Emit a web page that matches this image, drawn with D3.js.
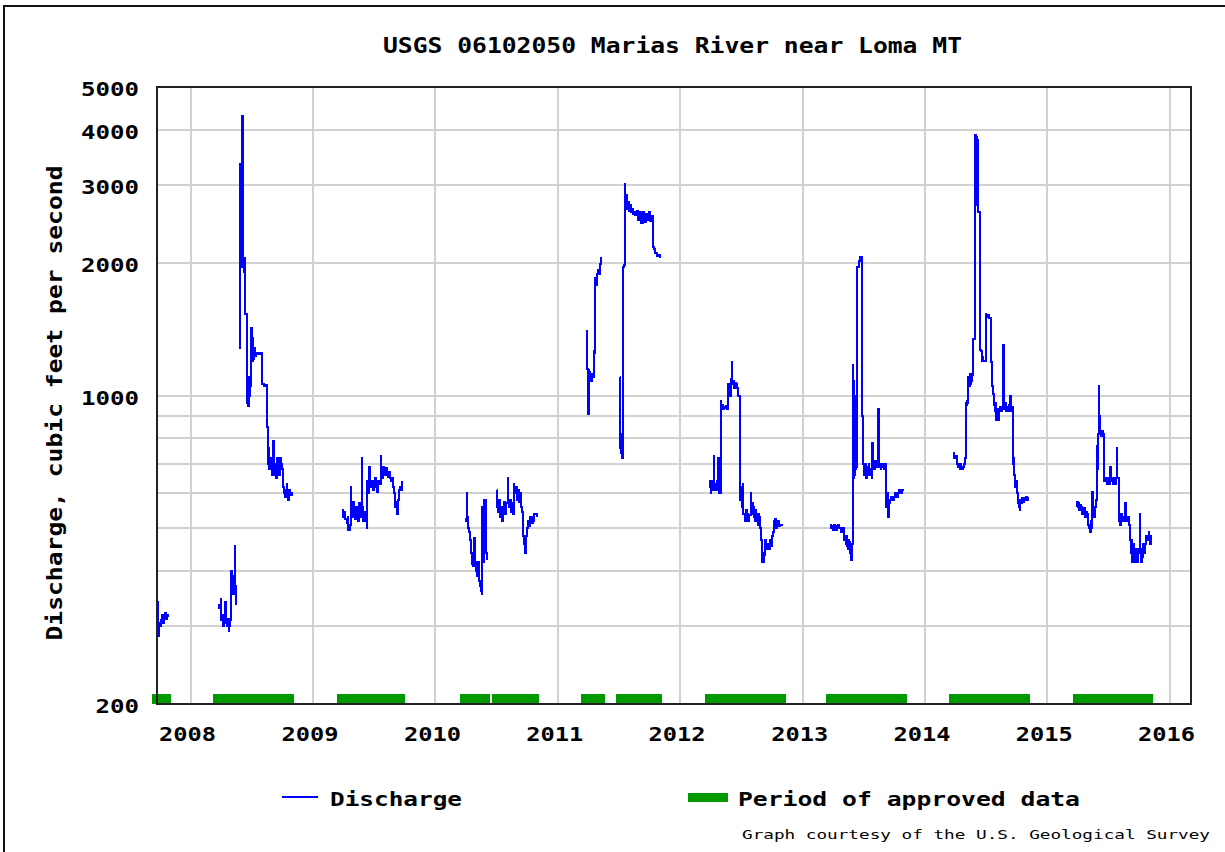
<!DOCTYPE html>
<html><head><meta charset="utf-8">
<script src="https://cdn.jsdelivr.net/npm/d3@7"></script>
<style>body{margin:0;background:#fff;overflow:hidden} svg{display:block}</style>
</head><body>
<svg id="c" width="1225" height="852"></svg>
<script>
// ---------------- data ----------------
const chartTitle = "USGS 06102050 Marias River near Loma MT";
const yAxisTitle = "Discharge, cubic feet per second";
const legendDischarge = "Discharge";
const legendApproved = "Period of approved data";
const footerText = "Graph courtesy of the U.S. Geological Survey";

const yLabelTicks = [200, 1000, 2000, 3000, 4000, 5000];
const yGridTicks = [300, 400, 500, 600, 700, 800, 900, 1000, 2000, 3000, 4000];
const xYearTicks = [2008, 2009, 2010, 2011, 2012, 2013, 2014, 2015, 2016];
const xDomain = ["2007-09-23", "2016-03-05"];

// Periods of approved data [start, end]
const approvedStarts = ["2007-09-07","2008-03-09","2009-03-14","2010-03-16","2010-06-20","2011-03-12","2011-06-23","2012-03-16","2013-03-12","2014-03-15","2015-03-18"];
const approvedEnds   = ["2007-11-03","2008-11-05","2009-10-02","2010-06-12","2010-11-05","2011-05-21","2011-11-09","2012-11-11","2013-11-08","2014-11-11","2015-11-14"];

// Daily discharge segments: [day of year, cfs]
const q2007 = [[266,340],[267,300],[268,285],[270,305],[273,300],[276,310],[279,318],[282,305],[285,318],[288,322],[291,312],[294,318],[298,315]];
const q2008a = [[81,330],[85,335],[90,345],[92,310],[95,318],[98,300],[101,312],[104,340],[106,305],[108,300],[111,312],[114,292],[116,300],[118,310],[121,400],[123,370],[124,390],[126,365],[128,355],[130,380],[133,455],[134,370],[136,335]];
const q2008b = [[146,1280],[147,3350],[148,1950],[149,3300],[150,2000],[151,3350],[152,2100],[153,1950],[154,3400],[155,4300],[156,2100],[158,2000],[160,1900],[161,2050],[162,1530],[168,1100],[169,960],[171,1050],[172,945],[174,1100],[176,1000],[178,1080],[180,1050],[182,1420],[184,1200],[186,1350],[188,1210],[190,1280],[192,1230],[194,1250],[197,1240],[201,1250],[205,1240],[209,1245],[213,1060],[219,1050],[224,1055],[229,850],[230,700],[232,760],[235,680],[237,720],[239,700],[242,660],[245,700],[247,790],[248,690],[251,660],[254,700],[255,650],[258,720],[260,660],[262,700],[264,660],[267,720],[269,680],[272,700],[274,680],[277,620],[280,600],[282,590],[285,610],[287,630],[289,600],[292,580],[295,610],[298,595],[302,605]];
const q2009 = [[85,550],[89,530],[93,545],[96,525],[100,515],[103,530],[105,495],[109,510],[112,620],[113,540],[115,530],[119,575],[122,540],[124,525],[128,560],[131,545],[133,520],[137,570],[140,540],[142,530],[145,720],[146,580],[147,560],[150,520],[153,545],[155,540],[158,520],[160,500],[162,640],[165,600],[168,690],[169,630],[172,620],[176,640],[180,610],[183,630],[185,650],[188,620],[190,605],[193,625],[195,640],[198,630],[202,730],[203,660],[205,650],[209,690],[211,670],[214,660],[218,685],[220,670],[223,655],[227,670],[230,650],[232,640],[236,650],[238,620],[240,600],[244,560],[247,575],[250,540],[253,580],[255,610],[259,620],[262,610],[265,640]];
const q2010a = [[88,520],[91,525],[93,600],[94,530],[96,520],[98,500],[100,490],[102,470],[105,440],[108,415],[111,430],[113,410],[116,475],[117,430],[118,420],[121,400],[124,390],[127,420],[130,380],[133,370],[136,360],[138,355],[140,560],[141,480],[142,420],[144,580],[146,500],[147,460],[149,580],[150,500],[152,440],[153,425]];
const q2010b = [[183,610],[185,560],[188,545],[191,580],[194,530],[197,560],[200,520],[203,550],[206,575],[209,540],[212,570],[216,650],[217,570],[219,560],[222,580],[225,545],[228,570],[231,540],[233,630],[235,600],[237,610],[240,620],[243,580],[246,610],[249,575],[252,600],[254,560],[258,545],[261,480],[264,460],[267,440],[270,480],[273,500],[276,520],[279,505],[283,530],[287,515],[290,520],[294,540],[299,540],[302,530]];
const q2011a = [[84,1400],[86,1170],[88,1150],[91,910],[92,1140],[94,1130],[96,1100],[99,1080],[102,1120],[105,1100],[107,1260],[109,1250],[111,1850],[113,1780],[116,1880],[119,1920],[122,1880],[125,1960],[127,1990],[129,2060]];
const q2011b = [[186,1100],[187,760],[189,820],[190,740],[192,720],[194,1950],[196,1950],[199,1980],[201,3020],[202,2700],[204,2850],[206,2700],[208,2650],[211,2750],[214,2620],[217,2700],[220,2600],[223,2650],[226,2580],[229,2600],[232,2560],[236,2620],[240,2500],[244,2600],[249,2460],[253,2600],[258,2470],[262,2580],[267,2500],[271,2600],[276,2480],[281,2550],[284,2170],[288,2150],[291,2100],[297,2070],[303,2080],[306,2050]];
const q2012 = [[87,620],[89,640],[91,600],[93,630],[96,640],[99,610],[101,730],[102,620],[104,610],[107,630],[109,640],[112,610],[114,720],[115,620],[117,600],[121,970],[123,950],[125,950],[128,930],[130,940],[134,935],[137,945],[139,930],[142,960],[144,1060],[146,1040],[148,1000],[151,1090],[154,1190],[155,1080],[157,1060],[159,1080],[161,1040],[163,1040],[165,1070],[167,1060],[170,1040],[172,1030],[174,1000],[178,990],[179,580],[182,620],[184,560],[187,630],[188,540],[190,540],[193,520],[196,550],[199,525],[201,540],[203,520],[205,530],[207,535],[211,600],[212,540],[214,540],[216,570],[218,560],[221,530],[223,520],[225,550],[227,540],[230,520],[232,510],[234,540],[236,530],[238,510],[239,500],[241,470],[244,450],[246,420],[248,420],[250,440],[251,435],[254,470],[257,450],[259,450],[263,460],[266,450],[268,470],[271,460],[272,455],[275,480],[277,490],[279,500],[281,520],[284,525],[287,500],[289,505],[291,520],[293,520],[296,505],[298,510],[301,510],[304,505]];
const q2013 = [[82,510],[85,500],[88,505],[91,495],[94,510],[97,500],[100,495],[103,505],[106,510],[109,500],[112,500],[115,490],[118,495],[121,500],[123,470],[125,480],[128,460],[130,480],[132,455],[134,450],[136,470],[138,465],[140,445],[141,440],[143,450],[144,425],[146,440],[147,460],[149,1170],[150,700],[151,1080],[152,650],[153,1050],[154,680],[155,660],[157,1000],[158,680],[160,690],[161,1950],[163,1950],[165,1960],[167,1950],[169,2020],[171,2060],[174,2060],[177,1000],[178,900],[179,790],[180,700],[182,660],[184,700],[185,660],[188,700],[190,650],[191,680],[194,690],[197,700],[199,660],[201,670],[204,680],[206,650],[208,780],[209,690],[211,700],[213,680],[215,710],[218,690],[221,700],[224,690],[226,930],[227,700],[230,690],[233,680],[235,700],[237,700],[240,690],[242,680],[246,700],[248,690],[249,560],[251,580],[252,600],[254,540],[255,530],[257,560],[259,570],[262,580],[264,590],[267,580],[270,580],[273,590],[276,600],[279,590],[282,590],[285,600],[288,610],[291,600],[294,600],[297,610],[300,615]];
const q2014 = [[85,740],[87,720],[88,730],[91,720],[93,730],[95,700],[97,700],[100,690],[102,700],[104,680],[106,700],[109,690],[111,680],[113,690],[115,690],[118,700],[120,720],[121,960],[123,950],[125,970],[127,960],[128,1100],[130,1080],[132,1050],[134,1100],[135,1120],[137,1060],[138,1080],[140,1120],[141,1110],[143,1150],[144,1340],[146,1340],[148,1350],[150,3900],[151,2700],[152,3850],[153,2900],[154,3850],[155,2800],[157,3800],[158,2600],[160,2600],[162,2600],[165,1270],[167,1260],[169,1200],[171,1220],[174,1200],[178,1200],[181,1530],[183,1510],[185,1520],[188,1510],[190,1520],[192,1500],[194,1500],[196,1200],[198,1190],[200,1050],[202,1010],[204,1010],[206,950],[208,920],[209,960],[211,880],[213,930],[214,900],[216,920],[218,880],[220,910],[222,930],[225,940],[228,920],[231,930],[234,1300],[235,950],[237,940],[239,930],[241,960],[243,920],[245,940],[248,930],[250,920],[252,950],[254,1000],[256,940],[257,920],[259,940],[262,700],[264,720],[265,680],[267,660],[268,650],[269,620],[271,640],[274,600],[277,590],[279,570],[281,560],[283,550],[285,580],[287,570],[290,585],[293,575],[296,585],[299,580],[302,590],[305,580],[309,590]];
const q2015 = [[88,560],[90,575],[92,570],[94,555],[96,550],[98,565],[101,560],[103,545],[105,540],[108,555],[110,555],[112,535],[114,530],[117,545],[119,540],[121,520],[123,510],[126,500],[128,490],[130,520],[131,520],[133,500],[135,605],[136,560],[138,560],[140,530],[141,540],[143,560],[144,560],[146,580],[148,770],[149,700],[150,680],[152,820],[153,1050],[154,900],[156,830],[158,820],[161,810],[163,830],[165,820],[168,650],[170,640],[173,640],[175,650],[177,630],[179,650],[181,640],[183,630],[186,650],[188,690],[189,640],[191,640],[193,650],[195,630],[197,650],[200,640],[203,630],[205,650],[208,760],[209,650],[211,650],[213,640],[215,520],[218,510],[219,540],[221,540],[223,520],[225,520],[228,530],[230,530],[233,570],[234,520],[236,520],[238,530],[240,530],[243,520],[245,510],[248,470],[250,450],[251,440],[252,470],[254,420],[256,440],[258,460],[260,430],[261,430],[263,420],[266,450],[268,430],[270,420],[272,440],[274,450],[276,540],[277,450],[278,450],[280,420],[283,430],[285,445],[287,460],[289,450],[291,440],[293,460],[294,480],[297,470],[299,470],[301,480],[303,490],[305,475],[308,460],[310,480],[313,480]];

const segmentYears = [2007, 2008, 2008, 2009, 2010, 2010, 2011, 2011, 2012, 2013, 2014, 2015];
const segmentData  = [q2007, q2008a, q2008b, q2009, q2010a, q2010b, q2011a, q2011b, q2012, q2013, q2014, q2015];

// ---------------- drawing ----------------
const FONT = "'DejaVu Sans Mono', 'Liberation Mono', monospace";
const parse = d3.timeParse("%Y-%m-%d");
const svg = d3.select("#c");
const M = {left: 157, right: 1191, top: 87, bottom: 704};

const x = d3.scaleTime().domain(xDomain.map(parse)).range([M.left, M.right]);
const y = d3.scaleLog().domain([200, 5000]).range([M.bottom, M.top]);

// outer frame
svg.append("rect").attr("x", 4).attr("y", 6).attr("width", 1240).attr("height", 870)
  .attr("fill", "#fff").attr("stroke", "#111").attr("stroke-width", 2);

// title
svg.append("text").attr("x", 672.5).attr("y", 53).attr("text-anchor", "middle")
  .attr("font-family", FONT).attr("font-weight", "bold").attr("font-size", 22)
  .attr("textLength", 579).attr("lengthAdjust", "spacingAndGlyphs").attr("fill", "#000")
  .text(chartTitle);

// grid
const grid = svg.append("g").attr("shape-rendering", "crispEdges");
grid.selectAll("line.h").data(yGridTicks).join("line").attr("class", "h")
  .attr("x1", M.left).attr("x2", M.right).attr("y1", d => Math.round(y(d))).attr("y2", d => Math.round(y(d)))
  .attr("stroke", "#d2d2d2").attr("stroke-width", 2);
grid.selectAll("line.v").data(xYearTicks).join("line").attr("class", "v")
  .attr("x1", d => Math.round(x(new Date(d, 0, 1)))).attr("x2", d => Math.round(x(new Date(d, 0, 1))))
  .attr("y1", M.top).attr("y2", M.bottom)
  .attr("stroke", "#d2d2d2").attr("stroke-width", 2);

// approved periods
svg.append("g").selectAll("rect").data(approvedStarts.map((s, i) => [parse(s), parse(approvedEnds[i])])).join("rect")
  .attr("x", d => x(d[0])).attr("width", d => x(d[1]) - x(d[0]))
  .attr("y", M.bottom - 10).attr("height", 10).attr("fill", "#009900")
  .attr("shape-rendering", "crispEdges");

// discharge lines
const line = d3.line().curve(d3.curveStepAfter).x(d => x(d.date)).y(d => y(d.q));
const lines = svg.append("g");
segmentData.forEach((seg, i) => {
  const yr = segmentYears[i];
  const pts = seg.map(p => ({date: d3.timeDay.offset(new Date(yr, 0, 1), p[0]), q: p[1]}));
  lines.append("path").datum(pts).attr("d", line)
    .attr("fill", "none").attr("stroke", "#0000ff").attr("stroke-width", 2)
    .attr("shape-rendering", "crispEdges");
});

// plot frame
svg.append("rect").attr("x", M.left).attr("y", M.top).attr("width", M.right - M.left).attr("height", M.bottom - M.top)
  .attr("fill", "none").attr("stroke", "#222").attr("stroke-width", 2).attr("shape-rendering", "crispEdges");

// y tick labels
svg.append("g").selectAll("text").data(yLabelTicks).join("text")
  .attr("x", 139).attr("y", d => y(d) + 9).attr("text-anchor", "end")
  .attr("font-family", FONT).attr("font-weight", "bold").attr("font-size", 19).attr("fill", "#000")
  .attr("textLength", d => String(d).length * 14.5).attr("lengthAdjust", "spacingAndGlyphs")
  .text(d => d);

// x tick labels
svg.append("g").selectAll("text").data(xYearTicks).join("text")
  .attr("x", d => x(new Date(d, 0, 1)) - 3).attr("y", 741).attr("text-anchor", "middle")
  .attr("font-family", FONT).attr("font-weight", "bold").attr("font-size", 20).attr("fill", "#000")
  .attr("textLength", 57).attr("lengthAdjust", "spacingAndGlyphs")
  .text(d => d);

// y axis title
svg.append("text").attr("transform", "translate(62,403) rotate(-90)").attr("text-anchor", "middle")
  .attr("font-family", FONT).attr("font-weight", "bold").attr("font-size", 21).attr("fill", "#000")
  .attr("textLength", 475).attr("lengthAdjust", "spacingAndGlyphs")
  .text(yAxisTitle);

// legend
const lg = svg.append("g");
lg.append("line").attr("x1", 282).attr("x2", 318).attr("y1", 797).attr("y2", 797)
  .attr("stroke", "#0000ff").attr("stroke-width", 2).attr("shape-rendering", "crispEdges");
lg.append("text").attr("x", 330).attr("y", 806)
  .attr("font-family", FONT).attr("font-weight", "bold").attr("font-size", 20).attr("fill", "#000")
  .attr("textLength", 132).attr("lengthAdjust", "spacingAndGlyphs").text(legendDischarge);
lg.append("rect").attr("x", 688).attr("y", 793).attr("width", 40).attr("height", 9).attr("fill", "#009900");
lg.append("text").attr("x", 738).attr("y", 806)
  .attr("font-family", FONT).attr("font-weight", "bold").attr("font-size", 20).attr("fill", "#000")
  .attr("textLength", 342).attr("lengthAdjust", "spacingAndGlyphs").text(legendApproved);

// footer
svg.append("text").attr("x", 742).attr("y", 839)
  .attr("font-family", FONT).attr("font-size", 13).attr("fill", "#000")
  .attr("textLength", 468).attr("lengthAdjust", "spacingAndGlyphs").text(footerText);
</script>
</body></html>
